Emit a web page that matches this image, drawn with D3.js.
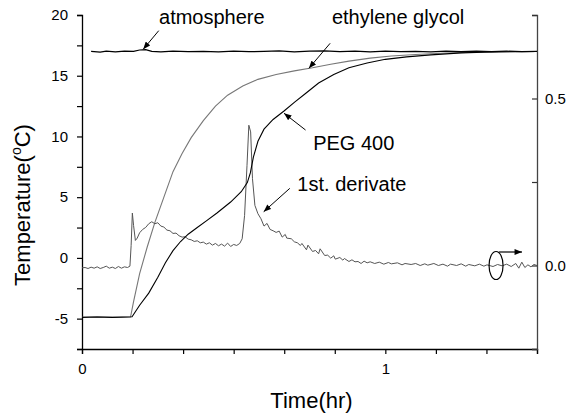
<!DOCTYPE html>
<html>
<head>
<meta charset="utf-8">
<script src="https://cdn.jsdelivr.net/npm/d3@7"></script>
<style>
body { margin: 0; background: #fff; }
text { font-family: Arial, "Liberation Sans", sans-serif; }
</style>
</head>
<body>
<div id="chart"></div>
<script>
// ticks
var timeTicks = [0, 1/6, 2/6, 3/6, 4/6, 5/6, 1, 7/6, 8/6, 9/6];
var timeLabels = [0, 1];
var tempTicks = [-7.5, -5, -2.5, 0, 2.5, 5, 7.5, 10, 12.5, 15, 17.5, 20];
var tempLabels = [-5, 0, 5, 10, 15, 20];
var derivTicks = [-0.25, 0, 0.25, 0.5, 0.75];
var derivLabels = [0, 0.5];

// series: [time (hr), value]
var atmosphere = [[0.03,17.0],[0.06,16.95],[0.08,17.02],[0.11,16.97],[0.14,17.03],[0.17,17.0],[0.19,17.12],
    [0.21,17.15],[0.23,17.0],[0.26,16.96],[0.3,17.02],[0.35,16.98],[0.4,17.0],[0.45,16.97],[0.5,17.03],
    [0.55,16.98],[0.6,17.0],[0.65,17.04],[0.7,16.97],[0.75,17.02],[0.8,17.05],[0.85,16.98],[0.9,17.03],
    [0.95,16.97],[1.0,17.02],[1.05,16.98],[1.1,17.01],[1.15,16.97],[1.2,17.02],[1.25,16.99],[1.3,17.03],
    [1.35,16.98],[1.4,17.02],[1.45,16.99],[1.5,17.01]];

var ethyleneGlycol = [[0,-4.88],[0.05,-4.85],[0.1,-4.9],[0.16,-4.87],[0.17,-3.6],[0.19,-1.3],[0.215,0.9],
    [0.24,2.9],[0.27,5.0],[0.3,7.1],[0.33,8.6],[0.36,9.9],[0.4,11.3],[0.44,12.5],[0.48,13.4],[0.53,14.15],
    [0.58,14.7],[0.64,15.1],[0.7,15.4],[0.76,15.65],[0.82,15.95],[0.88,16.2],[0.95,16.45],[1.02,16.62],
    [1.1,16.75],[1.2,16.87],[1.3,16.94],[1.4,16.98],[1.5,17.0]];

var peg400 = [[0,-4.9],[0.05,-4.87],[0.1,-4.9],[0.165,-4.85],[0.19,-3.9],[0.22,-2.9],[0.25,-1.6],
    [0.275,-0.4],[0.3,0.6],[0.325,1.35],[0.35,1.95],[0.38,2.5],[0.41,3.05],[0.445,3.7],[0.49,4.6],
    [0.525,5.45],[0.545,6.2],[0.555,7.0],[0.565,8.3],[0.58,9.6],[0.6,10.6],[0.63,11.4],[0.666,12.1],
    [0.7,12.8],[0.74,13.6],[0.78,14.4],[0.83,15.1],[0.88,15.65],[0.94,16.05],[1.0,16.35],[1.07,16.55],
    [1.15,16.72],[1.25,16.88],[1.35,16.95],[1.5,17.0]];

var derivative = [[0,-0.007],[0.01,-0.006],[0.02,-0.009],[0.03,-0.005],[0.04,-0.008],[0.05,-0.004],
    [0.06,-0.009],[0.07,-0.006],[0.08,-0.002],[0.09,-0.008],[0.1,-0.005],[0.11,-0.009],[0.12,-0.003],
    [0.13,-0.008],[0.14,-0.004],[0.15,-0.006],[0.158,-0.002],[0.162,0.06],[0.166,0.157],[0.17,0.12],
    [0.176,0.075],[0.182,0.082],[0.19,0.098],[0.2,0.108],[0.21,0.114],[0.22,0.125],[0.23,0.131],
    [0.24,0.125],[0.25,0.128],[0.26,0.118],[0.27,0.115],[0.28,0.106],[0.29,0.104],[0.3,0.096],
    [0.31,0.097],[0.32,0.089],[0.33,0.085],[0.34,0.086],[0.35,0.079],[0.36,0.077],[0.37,0.072],
    [0.38,0.074],[0.39,0.068],[0.4,0.07],[0.41,0.064],[0.42,0.068],[0.43,0.061],[0.44,0.066],
    [0.45,0.059],[0.46,0.064],[0.47,0.058],[0.48,0.067],[0.49,0.057],[0.5,0.063],[0.51,0.06],
    [0.52,0.066],[0.528,0.08],[0.536,0.15],[0.544,0.3],[0.55,0.42],[0.556,0.4],[0.562,0.26],
    [0.57,0.18],[0.58,0.155],[0.59,0.14],[0.6,0.118],[0.61,0.126],[0.62,0.108],[0.63,0.104],
    [0.64,0.099],[0.65,0.103],[0.66,0.085],[0.67,0.093],[0.675,0.082],[0.69,0.08],[0.7,0.071],
    [0.71,0.068],[0.72,0.06],[0.725,0.066],[0.74,0.047],[0.745,0.061],[0.76,0.042],[0.77,0.045],
    [0.78,0.035],[0.785,0.05],[0.8,0.03],[0.81,0.031],[0.82,0.022],[0.83,0.029],[0.835,0.019],
    [0.85,0.024],[0.86,0.016],[0.865,0.021],[0.88,0.012],[0.89,0.017],[0.9,0.011],[0.91,0.012],
    [0.92,0.006],[0.93,0.013],[0.94,0.008],[0.95,0.011],[0.965,0.006],[0.98,0.01],[0.995,0.004],
    [1.01,0.009],[1.02,0.005],[1.04,0.008],[1.055,0.002],[1.065,0.006],[1.085,0.003],[1.1,0.006],
    [1.115,0],[1.13,0.005],[1.14,0.001],[1.16,0.006],[1.175,0],[1.19,0.004],[1.205,-0.002],
    [1.215,0.004],[1.235,0],[1.25,0.005],[1.265,-0.002],[1.275,0.003],[1.295,-0.001],[1.31,0.004],
    [1.325,-0.002],[1.335,0.002],[1.355,-0.003],[1.37,0.003],[1.385,-0.001],[1.4,0.004],[1.415,-0.003],
    [1.43,0.006],[1.44,-0.008],[1.45,0.01],[1.46,-0.006],[1.47,0.002],[1.48,-0.004],[1.49,0.003],[1.5,0]];

var margin = {top: 15, right: 39, bottom: 67, left: 82};
var width = 576 - margin.left - margin.right;
var height = 416 - margin.top - margin.bottom;

var svg = d3.select("#chart")
    .append("svg")
    .attr("width", 576)
    .attr("height", 416)
    .append("g")
    .attr("transform", `translate(${margin.left},${margin.top})`);

svg.append("defs").append("marker")
    .attr("id", "head")
    .attr("viewBox", "0 0 10 8")
    .attr("refX", 10)
    .attr("refY", 4)
    .attr("markerWidth", 8)
    .attr("markerHeight", 6)
    .attr("markerUnits", "userSpaceOnUse")
    .attr("orient", "auto")
    .append("path")
    .attr("d", "M0,0L10,4L0,8z")
    .attr("fill", "#000");

var x = d3.scaleLinear().domain([0, 1.5]).range([0, width]);
var y = d3.scaleLinear().domain([-7.5, 20]).range([height, 0]);
var y2 = d3.scaleLinear().domain([-0.25, 0.75]).range([height, 0]);

// axes
var xAxis = svg.append("g")
    .attr("transform", `translate(0,${height})`)
    .call(d3.axisBottom(x).tickValues(timeTicks).tickSizeOuter(0).tickSize(5).tickPadding(9)
        .tickFormat(d => timeLabels.some(v => Math.abs(v - d) < 1e-9) ? d3.format("d")(d) : ""));

var yAxis = svg.append("g")
    .call(d3.axisLeft(y).tickValues(tempTicks).tickSizeOuter(0).tickSize(5).tickPadding(9)
        .tickFormat(d => tempLabels.indexOf(d) >= 0 ? d : ""));

var y2Axis = svg.append("g")
    .attr("transform", `translate(${width},0)`)
    .call(d3.axisRight(y2).tickValues(derivTicks).tickSizeOuter(0).tickSize(-5).tickPadding(8)
        .tickFormat(d => derivLabels.indexOf(d) >= 0 ? d3.format(".1f")(d) : ""));

[xAxis, yAxis, y2Axis].forEach(function(a) {
    a.selectAll("text").attr("font-size", "15px").attr("fill", "#000")
        .style("font-family", "Arial, 'Liberation Sans', sans-serif");
    a.selectAll("line").attr("stroke", "#000").attr("stroke-width", 1.2);
    a.select(".domain").attr("stroke", "#000").attr("stroke-width", 1.3);
});
y2Axis.selectAll("line").attr("stroke", "#333");
y2Axis.select(".domain").attr("stroke", "#444");

var line = d3.line().x(d => x(d[0])).y(d => y(d[1]));
var line2 = d3.line().x(d => x(d[0])).y(d => y2(d[1]));

svg.append("path").datum(ethyleneGlycol).attr("d", line)
    .attr("fill", "none").attr("stroke", "#777").attr("stroke-width", 1.1);
svg.append("path").datum(derivative).attr("d", line2)
    .attr("fill", "none").attr("stroke", "#555").attr("stroke-width", 1);
svg.append("path").datum(peg400).attr("d", line)
    .attr("fill", "none").attr("stroke", "#000").attr("stroke-width", 1.1);
svg.append("path").datum(atmosphere).attr("d", line)
    .attr("fill", "none").attr("stroke", "#000").attr("stroke-width", 1.2);

// annotations (positions in data units)
var labels = [
    {text: "atmosphere", t: 0.254, v: 19.3, from: [0.253, 18.71], to: [0.2018, 17.18], ax: y},
    {text: "ethylene glycol", t: 0.824, v: 19.3, from: [0.818, 17.67], to: [0.748, 15.61], ax: y},
    {text: "PEG 400", t: 0.762, v: 8.9, from: [0.737, 10.53], to: [0.666, 11.91], ax: y},
    {text: "1st. derivate", t: 0.71, v: 0.222, from: [0.685, 0.231], to: [0.599, 0.161], ax: y2}
];

labels.forEach(function(d) {
    svg.append("text")
        .attr("x", x(d.t))
        .attr("y", d.ax(d.v))
        .attr("font-size", "20px")
        .text(d.text);
    svg.append("line")
        .attr("x1", x(d.from[0])).attr("y1", d.ax(d.from[1]))
        .attr("x2", x(d.to[0])).attr("y2", d.ax(d.to[1]))
        .attr("stroke", "#000").attr("stroke-width", 1)
        .attr("marker-end", "url(#head)");
});

// right-axis marker
svg.append("ellipse")
    .attr("cx", x(1.365)).attr("cy", y2(0))
    .attr("rx", 7).attr("ry", 14)
    .attr("fill", "none").attr("stroke", "#000").attr("stroke-width", 1.2);
svg.append("line")
    .attr("x1", x(1.365) + 3).attr("y1", y2(0) - 13.5)
    .attr("x2", x(1.365) + 26).attr("y2", y2(0) - 13.5)
    .attr("stroke", "#000").attr("stroke-width", 1.2)
    .attr("marker-end", "url(#head)");

// axis titles
svg.append("text")
    .attr("text-anchor", "middle")
    .attr("x", width / 2 + 2)
    .attr("y", height + 59)
    .attr("font-size", "22px")
    .text("Time(hr)");

var yt = svg.append("text")
    .attr("transform", "rotate(-90)")
    .attr("text-anchor", "middle")
    .attr("x", -190)
    .attr("y", -52)
    .attr("font-size", "22px");
yt.append("tspan").text("Temperature(");
yt.append("tspan").attr("font-size", "14px").attr("dy", -9).text("o");
yt.append("tspan").attr("dy", 9).text("C)");
</script>
</body>
</html>
